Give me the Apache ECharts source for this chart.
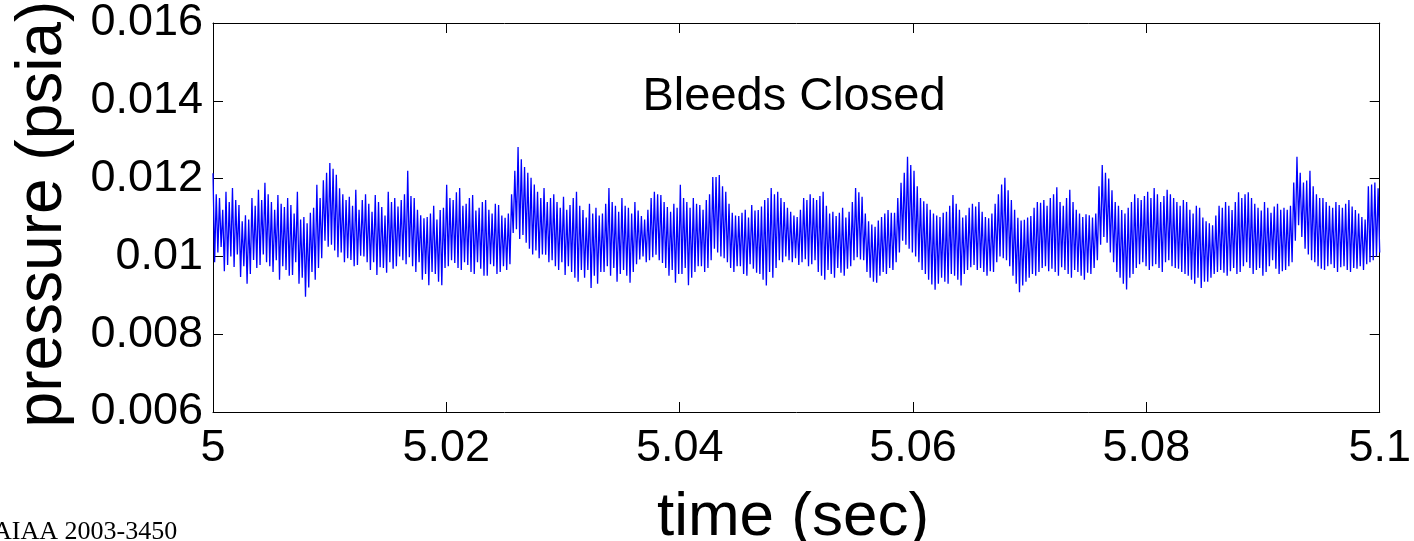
<!DOCTYPE html>
<html>
<head>
<meta charset="utf-8">
<script src="https://cdn.jsdelivr.net/npm/echarts@6/dist/echarts.min.js"></script>
<style>
  html, body { margin: 0; padding: 0; background: #fff; }
  #chart { width: 1414px; height: 541px; }
</style>
</head>
<body>
<div id="chart"></div>
<script>
// Time window of the record (sec)
const tStart = 5.0;
const tEnd = 5.1;

// Axis tick values
const xTicks = [5.0, 5.02, 5.04, 5.06, 5.08, 5.1];
const yTicks = [0.006, 0.008, 0.010, 0.012, 0.014, 0.016];

// Pressure trace (psia): successive peak / trough values of the oscillation,
// evenly spaced in time across the window
const pressure = [
  0.01214, 0.00985, 0.01160, 0.01010, 0.01150, 0.01024, 0.01120, 0.00962, 0.01166, 0.00978, 0.01140, 0.01000,
  0.01176, 0.00973, 0.01145, 0.01005, 0.01132, 0.00947, 0.01090, 0.00975, 0.01106, 0.00930, 0.01095, 0.00955,
  0.01150, 0.00991, 0.01130, 0.00970, 0.01171, 0.00978, 0.01145, 0.01005, 0.01189, 0.00985, 0.01160, 0.00975,
  0.01140, 0.00960, 0.01120, 0.00990, 0.01158, 0.00940, 0.01135, 0.00975, 0.01127, 0.00965, 0.01150, 0.00950,
  0.01132, 0.00952, 0.01110, 0.00985, 0.01166, 0.00930, 0.01095, 0.00945, 0.01101, 0.00896, 0.01085, 0.00920,
  0.01112, 0.00960, 0.01125, 0.00940, 0.01184, 0.00970, 0.01150, 0.00995, 0.01196, 0.01040, 0.01215, 0.01025,
  0.01240, 0.01030, 0.01225, 0.01015, 0.01210, 0.00998, 0.01175, 0.01010, 0.01160, 0.00985, 0.01145, 0.00995,
  0.01153, 0.00991, 0.01130, 0.00975, 0.01171, 0.00978, 0.01120, 0.01002, 0.01145, 0.01000, 0.01160, 0.00985,
  0.01135, 0.00965, 0.01115, 0.00985, 0.01158, 0.00952, 0.01140, 0.00972, 0.01127, 0.00970, 0.01105, 0.00958,
  0.01166, 0.00985, 0.01140, 0.00968, 0.01150, 0.00975, 0.01128, 0.01000, 0.01145, 0.00990, 0.01160, 0.00980,
  0.01220, 0.00998, 0.01155, 0.00975, 0.01150, 0.00960, 0.01120, 0.00985, 0.01106, 0.00940, 0.01098, 0.00955,
  0.01101, 0.00926, 0.01110, 0.00960, 0.01130, 0.00955, 0.01095, 0.00935, 0.01119, 0.00926, 0.01125, 0.00970,
  0.01184, 0.00975, 0.01150, 0.00990, 0.01145, 0.00983, 0.01165, 0.00970, 0.01176, 0.00965, 0.01130, 0.00985,
  0.01135, 0.00978, 0.01150, 0.00960, 0.01158, 0.00955, 0.01118, 0.00985, 0.01125, 0.00968, 0.01140, 0.00950,
  0.01145, 0.00950, 0.01120, 0.00980, 0.01110, 0.00975, 0.01135, 0.00955, 0.01132, 0.00960, 0.01105, 0.00975,
  0.01099, 0.00965, 0.01110, 0.00980, 0.01160, 0.01060, 0.01220, 0.01070, 0.01281, 0.01045, 0.01250, 0.01055,
  0.01230, 0.01035, 0.01215, 0.01020, 0.01202, 0.01005, 0.01185, 0.01015, 0.01166, 0.00995, 0.01150, 0.01005,
  0.01176, 0.01004, 0.01140, 0.00985, 0.01150, 0.00990, 0.01160, 0.00975, 0.01140, 0.00965, 0.01125, 0.00985,
  0.01153, 0.00952, 0.01120, 0.00975, 0.01132, 0.00960, 0.01150, 0.00945, 0.01166, 0.00935, 0.01130, 0.00965,
  0.01119, 0.00945, 0.01100, 0.00965, 0.01135, 0.00919, 0.01110, 0.00950, 0.01125, 0.00930, 0.01105, 0.00960,
  0.01110, 0.00960, 0.01135, 0.00975, 0.01176, 0.00950, 0.01140, 0.00970, 0.01130, 0.00935, 0.01115, 0.00955,
  0.01150, 0.00965, 0.01130, 0.00950, 0.01125, 0.00932, 0.01110, 0.00960, 0.01140, 0.00980, 0.01118, 0.00992,
  0.01104, 0.01000, 0.01095, 0.00985, 0.01120, 0.00990, 0.01150, 0.00998, 0.01166, 0.01004, 0.01160, 0.00990,
  0.01158, 0.00983, 0.01140, 0.00970, 0.01127, 0.00950, 0.01115, 0.00965, 0.01135, 0.00932, 0.01125, 0.00955,
  0.01184, 0.00955, 0.01150, 0.00970, 0.01140, 0.00926, 0.01125, 0.00945, 0.01150, 0.00960, 0.01135, 0.00975,
  0.01132, 0.00975, 0.01120, 0.00960, 0.01145, 0.00970, 0.01160, 0.00990, 0.01204, 0.01020, 0.01204, 0.01010,
  0.01209, 0.01000, 0.01180, 0.00995, 0.01166, 0.00985, 0.01135, 0.00970, 0.01112, 0.00960, 0.01105, 0.00975,
  0.01104, 0.00975, 0.01112, 0.00955, 0.01120, 0.00950, 0.01100, 0.00980, 0.01132, 0.00968, 0.01118, 0.00958,
  0.01119, 0.00955, 0.01128, 0.00940, 0.01145, 0.00925, 0.01150, 0.00960, 0.01176, 0.00945, 0.01160, 0.00970,
  0.01166, 0.00990, 0.01150, 0.00985, 0.01140, 0.01000, 0.01125, 0.00990, 0.01115, 0.00985, 0.01105, 0.00995,
  0.01101, 0.00978, 0.01120, 0.00985, 0.01150, 0.00993, 0.01145, 0.00975, 0.01160, 0.00980, 0.01150, 0.00990,
  0.01145, 0.00960, 0.01155, 0.00950, 0.01166, 0.00940, 0.01130, 0.00965, 0.01110, 0.00955, 0.01115, 0.00945,
  0.01104, 0.00970, 0.01112, 0.00958, 0.01125, 0.00950, 0.01100, 0.00968, 0.01115, 0.00975, 0.01140, 0.00990,
  0.01176, 0.00998, 0.01165, 0.00992, 0.01153, 0.00990, 0.01110, 0.00960, 0.01090, 0.00945, 0.01082, 0.00935,
  0.01076, 0.00932, 0.01092, 0.00950, 0.01101, 0.00960, 0.01110, 0.00955, 0.01119, 0.00970, 0.01112, 0.00965,
  0.01112, 0.00985, 0.01150, 0.01010, 0.01189, 0.01040, 0.01215, 0.01030, 0.01256, 0.01020, 0.01235, 0.01010,
  0.01220, 0.01000, 0.01180, 0.00985, 0.01150, 0.00965, 0.01142, 0.00955, 0.01135, 0.00940, 0.01120, 0.00928,
  0.01110, 0.00914, 0.01105, 0.00930, 0.01101, 0.00945, 0.01112, 0.00935, 0.01115, 0.00930, 0.01130, 0.00955,
  0.01158, 0.00950, 0.01135, 0.00940, 0.01120, 0.00925, 0.01100, 0.00955, 0.01106, 0.00965, 0.01125, 0.00972,
  0.01135, 0.00978, 0.01128, 0.00965, 0.01140, 0.00970, 0.01115, 0.00960, 0.01101, 0.00950, 0.01098, 0.00962,
  0.01110, 0.00960, 0.01135, 0.00985, 0.01160, 0.01000, 0.01185, 0.00995, 0.01202, 0.00990, 0.01170, 0.00975,
  0.01145, 0.00950, 0.01120, 0.00930, 0.01099, 0.00908, 0.01092, 0.00925, 0.01094, 0.00935, 0.01100, 0.00945,
  0.01104, 0.00955, 0.01125, 0.00950, 0.01140, 0.00960, 0.01138, 0.00970, 0.01145, 0.00975, 0.01130, 0.00962,
  0.01150, 0.00968, 0.01160, 0.00960, 0.01178, 0.00950, 0.01140, 0.00972, 0.01130, 0.00965, 0.01150, 0.00955,
  0.01171, 0.00945, 0.01140, 0.00965, 0.01120, 0.00960, 0.01110, 0.00950, 0.01101, 0.00940, 0.01108, 0.00958,
  0.01106, 0.00955, 0.01100, 0.00970, 0.01110, 0.00990, 0.01180, 0.01030, 0.01235, 0.01050, 0.01215, 0.01035,
  0.01200, 0.01010, 0.01170, 0.00985, 0.01140, 0.00960, 0.01130, 0.00945, 0.01119, 0.00930, 0.01110, 0.00915,
  0.01125, 0.00945, 0.01140, 0.00955, 0.01160, 0.00970, 0.01150, 0.00980, 0.01145, 0.00985, 0.01155, 0.00975,
  0.01166, 0.00965, 0.01150, 0.00975, 0.01176, 0.00980, 0.01160, 0.00970, 0.01140, 0.00960, 0.01155, 0.00985,
  0.01171, 0.00990, 0.01160, 0.00975, 0.01150, 0.00970, 0.01140, 0.00968, 0.01130, 0.00960, 0.01145, 0.00955,
  0.01140, 0.00950, 0.01120, 0.00940, 0.01110, 0.00930, 0.01130, 0.00945, 0.01125, 0.00919, 0.01100, 0.00935,
  0.01090, 0.00935, 0.01085, 0.00945, 0.01080, 0.00955, 0.01105, 0.00960, 0.01130, 0.00965, 0.01125, 0.00958,
  0.01140, 0.00950, 0.01130, 0.00962, 0.01119, 0.00970, 0.01140, 0.00955, 0.01165, 0.00960, 0.01150, 0.00975,
  0.01160, 0.00985, 0.01165, 0.00970, 0.01150, 0.00955, 0.01135, 0.00965, 0.01125, 0.00970, 0.01118, 0.00950,
  0.01140, 0.00960, 0.01125, 0.00975, 0.01112, 0.00990, 0.01128, 0.00968, 0.01135, 0.00955, 0.01120, 0.00962,
  0.01125, 0.00965, 0.01120, 0.00975, 0.01130, 0.00985, 0.01190, 0.01040, 0.01256, 0.01080, 0.01215, 0.01050,
  0.01190, 0.01020, 0.01195, 0.01005, 0.01220, 0.00990, 0.01180, 0.00985, 0.01160, 0.00975, 0.01150, 0.00968,
  0.01150, 0.00965, 0.01140, 0.00975, 0.01130, 0.00980, 0.01125, 0.00970, 0.01140, 0.00960, 0.01132, 0.00972,
  0.01125, 0.00975, 0.01135, 0.00965, 0.01145, 0.00960, 0.01128, 0.00970, 0.01119, 0.00968, 0.01110, 0.00975,
  0.01101, 0.00965, 0.01095, 0.00980, 0.01180, 0.00985, 0.01185, 0.00990, 0.01190, 0.01000, 0.01175, 0.01010
];

// Pair each value with its sample time
const dt = (tEnd - tStart) / (pressure.length - 1);
const trace = pressure.map((p, i) => [tStart + i * dt, p]);

const FONT = '"Liberation Sans", Arial, Helvetica, sans-serif';
const fmt = v => String(parseFloat(v.toFixed(3)));

const chart = echarts.init(document.getElementById('chart'), null, { renderer: 'canvas' });

const boxAxisLine = { show: true, onZero: false, lineStyle: { color: '#000', width: 1 } };
const innerTick = { show: true, inside: true, length: 10, lineStyle: { color: '#000', width: 1 } };

function xAxisDef(position, showLabels) {
  return {
    type: 'value', position: position,
    min: xTicks[0], max: xTicks[xTicks.length - 1], interval: 0.02,
    axisLine: boxAxisLine, axisTick: innerTick, splitLine: { show: false },
    axisLabel: {
      show: showLabels, fontSize: 45, color: '#000', fontFamily: FONT,
      margin: 14, showMinLabel: true, showMaxLabel: true, formatter: fmt
    }
  };
}
function yAxisDef(position, showLabels) {
  return {
    type: 'value', position: position,
    min: yTicks[0], max: yTicks[yTicks.length - 1], interval: 0.002,
    axisLine: boxAxisLine, axisTick: innerTick, splitLine: { show: false },
    axisLabel: {
      show: showLabels, fontSize: 45, color: '#000', fontFamily: FONT,
      margin: 10, showMinLabel: true, showMaxLabel: true, formatter: fmt
    }
  };
}

chart.setOption({
  animation: false,
  backgroundColor: '#fff',
  grid: { left: 213, right: 31, top: 23, bottom: 129, containLabel: false },
  xAxis: [xAxisDef('bottom', true), xAxisDef('top', false)],
  yAxis: [yAxisDef('left', true), yAxisDef('right', false)],
  series: [{
    type: 'line',
    xAxisIndex: 0, yAxisIndex: 0,
    data: trace,
    showSymbol: false,
    symbol: 'none',
    sampling: null,
    lineStyle: { color: '#0000ff', width: 1.3 },
    silent: true
  }],
  graphic: [
    {
      type: 'text', x: 794, y: 97,
      style: { text: 'Bleeds Closed', fontSize: 47, fontFamily: FONT, fill: '#000', align: 'center', verticalAlign: 'middle' }
    },
    {
      type: 'text', x: 793, y: 518,
      style: { text: 'time (sec)', fontSize: 62, fontFamily: FONT, fill: '#000', align: 'center', verticalAlign: 'middle' }
    },
    {
      type: 'text', x: 43, y: 214, rotation: Math.PI / 2,
      style: { text: 'pressure (psia)', fontSize: 64, fontFamily: FONT, fill: '#000', align: 'center', verticalAlign: 'middle' }
    },
    {
      type: 'text', x: -7, y: 532,
      style: { text: 'AIAA 2003-3450', fontSize: 26, fontFamily: '"Liberation Serif", "Times New Roman", serif', fill: '#000', align: 'left', verticalAlign: 'middle' }
    }
  ]
});
</script>
</body>
</html>
